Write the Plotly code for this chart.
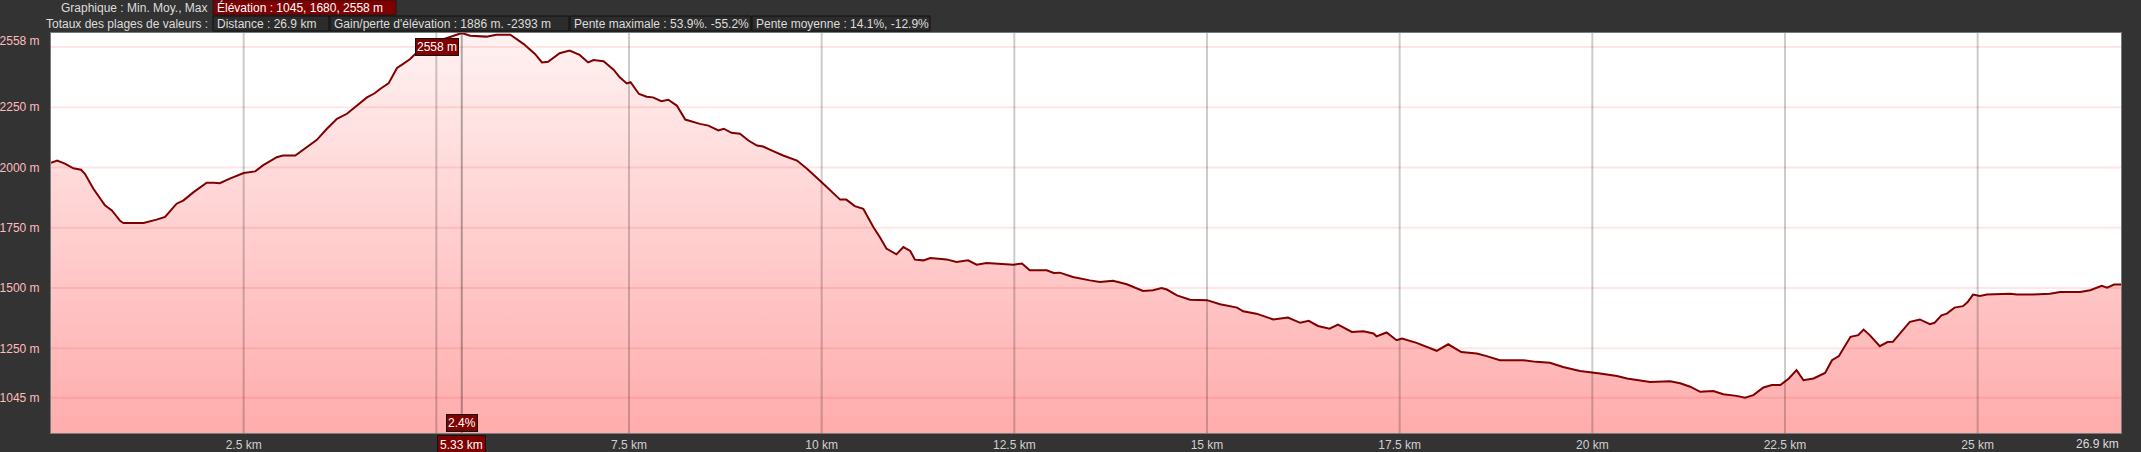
import plotly.graph_objects as go

# ---------------- data ----------------
DIST_KM = [0, 0.08, 0.18, 0.29, 0.39, 0.44, 0.55, 0.70, 0.79, 0.90,
           0.94, 1.20, 1.37, 1.48, 1.63, 1.72, 1.85, 2.02, 2.11, 2.19,
           2.32, 2.50, 2.65, 2.75, 2.93, 3.01, 3.17, 3.32, 3.45, 3.58,
           3.71, 3.84, 3.92, 4.05, 4.10, 4.20, 4.27, 4.38, 4.49, 4.57,
           4.66, 4.75, 4.92, 5.11, 5.33, 5.44, 5.65, 5.78, 5.96, 6.13,
           6.28, 6.37, 6.45, 6.60, 6.73, 6.86, 6.97, 7.04, 7.17, 7.30,
           7.38, 7.47, 7.52, 7.63, 7.73, 7.81, 7.92, 8.01, 8.12, 8.23,
           8.42, 8.53, 8.66, 8.73, 8.83, 8.94, 9.05, 9.16, 9.24, 9.37,
           9.50, 9.68, 9.81, 10.00, 10.24, 10.32, 10.43, 10.54, 10.67, 10.76,
           10.84, 10.97, 11.06, 11.15, 11.21, 11.32, 11.41, 11.62, 11.75, 11.90,
           12.01, 12.14, 12.31, 12.49, 12.60, 12.70, 12.92, 13.01, 13.09, 13.26,
           13.48, 13.61, 13.78, 13.96, 14.17, 14.30, 14.41, 14.48, 14.61, 14.78,
           15.00, 15.17, 15.39, 15.47, 15.64, 15.86, 16.05, 16.21, 16.32, 16.44,
           16.59, 16.70, 16.88, 17.03, 17.16, 17.20, 17.33, 17.46, 17.53, 17.72,
           17.98, 18.13, 18.30, 18.50, 18.63, 18.80, 19.10, 19.27, 19.45, 19.62,
           19.84, 20.03, 20.10, 20.32, 20.45, 20.75, 20.88, 21.01, 21.14, 21.27,
           21.40, 21.57, 21.70, 21.87, 21.98, 22.09, 22.22, 22.33, 22.44, 22.55,
           22.65, 22.74, 22.87, 23.02, 23.11, 23.20, 23.35, 23.45, 23.52, 23.60,
           23.73, 23.83, 23.90, 23.97, 24.12, 24.25, 24.38, 24.44, 24.53, 24.60,
           24.70, 24.81, 24.87, 24.94, 25.03, 25.12, 25.29, 25.42, 25.51, 25.72,
           25.94, 26.07, 26.33, 26.46, 26.61, 26.68, 26.77, 26.86]

ELEV_M = [2020, 2029, 2016, 1997, 1991, 1974, 1912, 1843, 1822, 1778,
          1770, 1770, 1784, 1795, 1850, 1864, 1898, 1937, 1937, 1935,
          1954, 1977, 1984, 2009, 2043, 2050, 2050, 2084, 2115, 2161,
          2202, 2223, 2243, 2278, 2291, 2308, 2326, 2349, 2413, 2430,
          2450, 2478, 2513, 2534, 2558, 2547, 2543, 2551, 2551, 2513,
          2471, 2436, 2439, 2474, 2485, 2467, 2436, 2446, 2441, 2406,
          2374, 2349, 2354, 2305, 2294, 2291, 2275, 2281, 2257, 2199,
          2181, 2174, 2154, 2161, 2144, 2140, 2112, 2091, 2087, 2068,
          2050, 2029, 1995, 1939, 1867, 1867, 1840, 1829, 1753, 1709,
          1664, 1640, 1670, 1654, 1618, 1615, 1625, 1619, 1608, 1615,
          1597, 1604, 1602, 1597, 1602, 1574, 1574, 1563, 1564, 1546,
          1532, 1525, 1530, 1516, 1488, 1491, 1500, 1494, 1470, 1452,
          1450, 1433, 1419, 1404, 1394, 1370, 1378, 1356, 1364, 1343,
          1332, 1349, 1318, 1321, 1312, 1300, 1316, 1284, 1291, 1273,
          1240, 1267, 1235, 1229, 1218, 1201, 1201, 1194, 1190, 1173,
          1156, 1150, 1146, 1135, 1125, 1111, 1111, 1114, 1105, 1091,
          1070, 1073, 1060, 1053, 1045, 1056, 1088, 1098, 1098, 1125,
          1160, 1118, 1125, 1148, 1201, 1218, 1298, 1305, 1328, 1305,
          1259, 1276, 1277, 1305, 1360, 1370, 1350, 1356, 1387, 1394,
          1419, 1425, 1442, 1473, 1467, 1473, 1477, 1477, 1473, 1473,
          1477, 1484, 1484, 1491, 1509, 1502, 1515, 1515]

Y_GRID = [1045, 1250, 1500, 1750, 2000, 2250, 2500]
Y_TICKVALS = [1045, 1250, 1500, 1750, 2000, 2250, 2526]
Y_TICKTEXT = ["1045 m", "1250 m", "1500 m", "1750 m", "2000 m", "2250 m", "2558 m"]

X_GRID = [2.5, 5, 7.5, 10, 12.5, 15, 17.5, 20, 22.5, 25]
X_TICKVALS = [2.5, 7.5, 10, 12.5, 15, 17.5, 20, 22.5, 25]
X_TICKTEXT = ["2.5 km", "7.5 km", "10 km", "12.5 km", "15 km", "17.5 km", "20 km", "22.5 km", "25 km"]
X_END_LABEL = "26.9 km"

CURSOR_KM = 5.33
CURSOR_LABEL = "5.33 km"
CURSOR_SLOPE = "2.4%"
PEAK_LABEL = "2558 m"
PEAK_ELEV = 2558

HEADER_ROW1_LABEL = "Graphique : Min. Moy., Max"
HEADER_ROW1_BOX = "Élévation : 1045, 1680, 2558 m"
HEADER_ROW2_LABEL = "Totaux des plages de valeurs :"
HEADER_ROW2_BOXES = ["Distance : 26.9 km",
                     "Gain/perte d'élévation : 1886 m. -2393 m",
                     "Pente maximale : 53.9%. -55.2%",
                     "Pente moyenne : 14.1%, -12.9%"]

# ---------------- layout geometry (pixels) ----------------
W, H = 2141, 452
L, R, T, B = 51, 2121, 33, 433
FONT = "Liberation Sans, Arial, sans-serif"
FS = 12


def px(x):
    return (x - L) / (R - L)


def py(y):
    return (B - y) / (B - T)


fig = go.Figure()
fig.add_trace(go.Scatter(
    x=DIST_KM, y=ELEV_M, mode="lines",
    line=dict(color="#800000", width=2),
    fill="tozeroy",
    fillgradient=dict(type="vertical", start=899, stop=2558,
                      colorscale=[[0, "rgb(255,172,172)"], [1, "rgb(255,242,242)"]]),
    hoverinfo="skip", showlegend=False,
))

shapes = []
for g in Y_GRID:
    shapes.append(dict(type="line", xref="paper", x0=0, x1=1, yref="y", y0=g, y1=g,
                       line=dict(color="rgba(255,0,0,0.1)", width=2), layer="above"))
for g in X_GRID:
    shapes.append(dict(type="line", yref="paper", y0=0, y1=1, xref="x", x0=g, x1=g,
                       line=dict(color="rgba(0,0,0,0.2)", width=2), layer="above"))
shapes.append(dict(type="line", yref="paper", y0=0, y1=1, xref="x", x0=CURSOR_KM, x1=CURSOR_KM,
                   line=dict(color="rgba(0,0,0,0.3)", width=2), layer="above"))

# header boxes
shapes.append(dict(type="rect", xref="paper", yref="paper", x0=px(213), x1=px(396),
                   y0=py(15), y1=py(0), fillcolor="#800000", line=dict(color="#1a1a1a", width=1),
                   layer="above"))
row2_edges = [(213, 329), (330, 569), (570, 751), (752, 930)]
for (a, b) in row2_edges:
    shapes.append(dict(type="rect", xref="paper", yref="paper", x0=px(a), x1=px(b),
                       y0=py(31), y1=py(16), fillcolor="#2c2c2c", line=dict(color="#111111", width=1),
                       layer="above"))

annotations = []
txt = dict(family=FONT, size=FS, color="#dddddd")
annotations.append(dict(text=HEADER_ROW1_LABEL, xref="paper", yref="paper", x=px(210), y=py(7.5),
                        xanchor="right", yanchor="middle", showarrow=False, font=txt))
annotations.append(dict(text=HEADER_ROW1_BOX, xref="paper", yref="paper", x=px(215), y=py(7.5),
                        xanchor="left", yanchor="middle", showarrow=False,
                        font=dict(family=FONT, size=FS, color="#ffffff")))
annotations.append(dict(text=HEADER_ROW2_LABEL, xref="paper", yref="paper", x=px(210), y=py(23.5),
                        xanchor="right", yanchor="middle", showarrow=False, font=txt))
for (a, b), s in zip(row2_edges, HEADER_ROW2_BOXES):
    annotations.append(dict(text=s, xref="paper", yref="paper", x=px(a + 2), y=py(23.5),
                            xanchor="left", yanchor="middle", showarrow=False, font=txt))

# peak label
annotations.append(dict(text=PEAK_LABEL, xref="x", yref="y", x=CURSOR_KM, y=PEAK_ELEV,
                        xanchor="right", yanchor="top", xshift=-3, yshift=-5, showarrow=False,
                        bgcolor="#800000", bordercolor="#111111", borderwidth=1, borderpad=1,
                        font=dict(family=FONT, size=FS, color="#ffffff")))
# cursor labels
annotations.append(dict(text=CURSOR_SLOPE, xref="x", yref="paper", x=CURSOR_KM, y=0,
                        xanchor="center", yanchor="bottom", yshift=1, showarrow=False,
                        bgcolor="#800000", bordercolor="#111111", borderwidth=1, borderpad=1,
                        font=dict(family=FONT, size=FS, color="#ffffff")))
annotations.append(dict(text=CURSOR_LABEL, xref="x", yref="paper", x=CURSOR_KM, y=0,
                        xanchor="center", yanchor="top", yshift=-2, showarrow=False,
                        bgcolor="#800000", bordercolor="#111111", borderwidth=1, borderpad=2,
                        font=dict(family=FONT, size=FS, color="#ffffff")))
# end label
annotations.append(dict(text=X_END_LABEL, xref="paper", yref="paper", x=1, y=0,
                        xanchor="right", yanchor="top", yshift=-2, showarrow=False,
                        font=dict(family=FONT, size=FS, color="#dddddd")))

fig.update_layout(
    width=W, height=H,
    margin=dict(l=L, r=W - R, t=T, b=H - B, autoexpand=False),
    paper_bgcolor="#333333", plot_bgcolor="#ffffff",
    font=dict(family=FONT, size=FS, color="#dddddd"),
    shapes=shapes, annotations=annotations,
    xaxis=dict(range=[0, 26.86], showgrid=False, zeroline=False, automargin=False,
               tickvals=X_TICKVALS, ticktext=X_TICKTEXT,
               tickfont=dict(family=FONT, size=FS, color="#d0d0d0"),
               ticks="outside", ticklen=1, tickcolor="rgba(0,0,0,0)",
               showline=True, linecolor="#7a7a7a", linewidth=1, mirror=True, fixedrange=True),
    yaxis=dict(range=[899, 2558], showgrid=False, zeroline=False, automargin=False,
               tickvals=Y_TICKVALS, ticktext=Y_TICKTEXT,
               tickfont=dict(family=FONT, size=FS, color="#ffbcbc"),
               ticks="outside", ticklen=8, tickcolor="rgba(0,0,0,0)",
               showline=True, linecolor="#7a7a7a", linewidth=1, mirror=True, fixedrange=True),
)

fig.write_html("out.html", config={"displayModeBar": False},
               post_script="document.body.style.margin='0px';document.body.style.background='#333333';")
